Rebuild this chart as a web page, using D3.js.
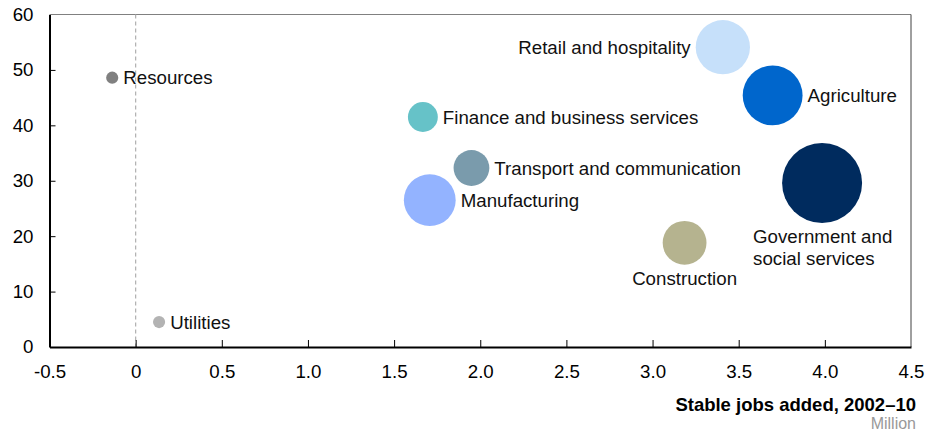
<!DOCTYPE html>
<html>
<head>
<meta charset="utf-8">
<script src="https://cdn.jsdelivr.net/npm/d3@7"></script>
<style>
  body { margin: 0; background: #fff; }
  svg { display: block; font-family: Arial, "Liberation Sans", sans-serif; }
</style>
</head>
<body>
<div id="chart"></div>
<script>
// Sectors, stable jobs added (million), share (%), relative bubble size
const sectors = ["Resources", "Utilities", "Finance and business services", "Transport and communication",
  "Manufacturing", "Construction", "Government and social services", "Retail and hospitality", "Agriculture"];
const jobsAdded = [-0.136, 0.136, 1.667, 1.949, 1.707, 3.186, 3.984, 3.408, 3.697];
const share = [48.6, 4.5, 41.5, 32.3, 26.5, 18.8, 29.6, 54.1, 45.4];
const bubbleSize = [2.3, 2.3, 14, 20, 42, 30, 100, 46, 56];
const colors = ["#808080", "#b3b3b3", "#66c2c8", "#7a9bac", "#93b3ff", "#b5b38f", "#002b5e", "#c6e0fa", "#0066cc"];
const xTicks = [-0.5, 0, 0.5, 1.0, 1.5, 2.0, 2.5, 3.0, 3.5, 4.0, 4.5];
const xTickLabels = ["-0.5", "0", "0.5", "1.0", "1.5", "2.0", "2.5", "3.0", "3.5", "4.0", "4.5"];
const yTicks = [0, 10, 20, 30, 40, 50, 60];

// label placement per sector
const labelSide = ["right", "right", "right", "right", "right", "below", "belowLeft", "left", "right"];

const width = 926, height = 434;
const margin = { top: 14.5, right: 15, bottom: 87, left: 49.5 };
const innerW = width - margin.left - margin.right;
const innerH = height - margin.top - margin.bottom;
const fontSize = "18.7px";

const svg = d3.select("#chart").append("svg")
    .attr("width", width)
    .attr("height", height);

const g = svg.append("g")
    .attr("transform", `translate(${margin.left},${margin.top})`);

const x = d3.scaleLinear().domain([-0.5, 4.5]).range([0, innerW]);
const y = d3.scaleLinear().domain([0, 60]).range([innerH, 0]);
const r = d3.scaleSqrt().domain([0, 100]).range([0, 40]);

// frame top & right
g.append("line").attr("x1", 0).attr("x2", innerW).attr("y1", 0).attr("y2", 0)
    .attr("stroke", "#808080").attr("stroke-width", 1);
g.append("line").attr("x1", innerW).attr("x2", innerW).attr("y1", 0).attr("y2", innerH)
    .attr("stroke", "#404040").attr("stroke-width", 1);

// dashed zero line
g.append("line")
    .attr("x1", x(0)).attr("x2", x(0))
    .attr("y1", 0).attr("y2", innerH)
    .attr("stroke", "#b0b0b0")
    .attr("stroke-width", 1.2)
    .attr("stroke-dasharray", "4,3");

// axes
const xAxis = g.append("g")
    .attr("transform", `translate(0,${innerH})`)
    .call(d3.axisBottom(x).tickValues(xTicks).tickSizeInner(-7).tickSizeOuter(0).tickPadding(18)
        .tickFormat((d, i) => xTickLabels[i]));
const yAxis = g.append("g")
    .call(d3.axisLeft(y).tickValues(yTicks).tickSizeInner(-6).tickSizeOuter(0).tickPadding(16));

[xAxis, yAxis].forEach(a => {
    a.select(".domain").attr("stroke", "#000").attr("stroke-width", 2);
    a.selectAll(".tick line").attr("stroke", "#000").attr("stroke-width", 1);
    a.selectAll(".tick text").attr("fill", "#000").style("font-size", fontSize).style("font-family", "Arial, 'Liberation Sans', sans-serif");
});
xAxis.selectAll(".tick").filter(d => d === -0.5 || d === 4.5).select("line").remove();
yAxis.selectAll(".tick").filter(d => d === 0 || d === 60).select("line").remove();

const data = sectors.map((s, i) => ({
    name: s, x: jobsAdded[i], y: share[i], size: bubbleSize[i], color: colors[i], side: labelSide[i]
}));

// bubbles, biggest first
g.selectAll("circle.bubble")
    .data(data.slice().sort((a, b) => b.size - a.size))
    .enter()
    .append("circle")
    .attr("class", "bubble")
    .attr("cx", d => x(d.x))
    .attr("cy", d => y(d.y))
    .attr("r", d => r(d.size))
    .attr("fill", d => d.color);

// labels
const labels = g.selectAll("text.lbl")
    .data(data)
    .enter()
    .append("text")
    .attr("class", "lbl")
    .style("font-size", fontSize)
    .attr("fill", "#111");

labels.each(function(d) {
    const t = d3.select(this);
    const cx = x(d.x), cy = y(d.y), rr = r(d.size);
    if (d.side === "right") {
        t.attr("x", cx + rr + 5).attr("y", cy + 6.5).attr("text-anchor", "start").text(d.name);
    } else if (d.side === "left") {
        t.attr("x", cx - rr - 5).attr("y", cy + 6.5).attr("text-anchor", "end").text(d.name);
    } else if (d.side === "below") {
        t.attr("x", cx).attr("y", cy + rr + 20).attr("text-anchor", "middle").text(d.name);
    } else {
        // two lines, left aligned under the bubble
        const words = ["Government and", "social services"];
        t.attr("text-anchor", "start");
        words.forEach((w, k) => {
            t.append("tspan").attr("x", cx - 69).attr("y", cy + rr + 20 + k * 22.5).text(w);
        });
    }
});

// axis title
svg.append("text")
    .attr("x", width - 10)
    .attr("y", 411)
    .attr("text-anchor", "end")
    .style("font-size", "18.5px")
    .style("font-weight", "bold")
    .attr("fill", "#000")
    .text("Stable jobs added, 2002–10");

svg.append("text")
    .attr("x", width - 10)
    .attr("y", 429)
    .attr("text-anchor", "end")
    .style("font-size", "16px")
    .attr("fill", "#999")
    .text("Million");
</script>
</body>
</html>
